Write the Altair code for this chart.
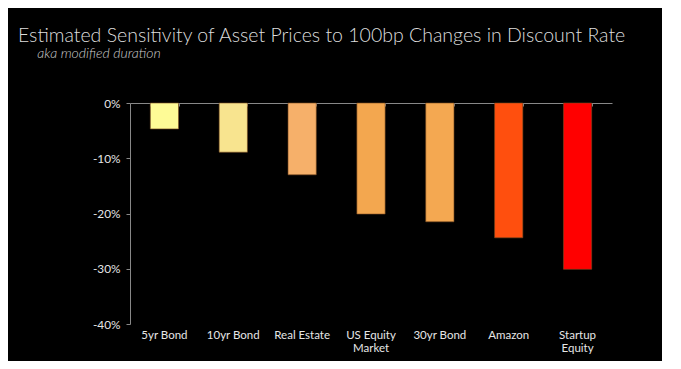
import altair as alt
import pandas as pd

categories = ["5yr Bond", "10yr Bond", "Real Estate", "US Equity\nMarket",
              "30yr Bond", "Amazon", "Startup\nEquity"]
values = [-0.047, -0.089, -0.130, -0.201, -0.215, -0.244, -0.301]
colors = ["#FEFB96", "#F8E48F", "#F6B06A", "#F3A74F", "#F4A851", "#FF4F0E", "#FF0000"]

df = pd.DataFrame({"cat": categories, "val": values, "col": colors})

xscale = alt.Scale(domain=categories, paddingInner=0.59, paddingOuter=0.295)
yscale = alt.Scale(domain=[-0.4, 0], nice=False)

bars = alt.Chart(df).mark_bar(strokeWidth=0.6, stroke="#7a4a20").encode(
    x=alt.X("cat:N", sort=categories, scale=xscale,
            axis=alt.Axis(orient="bottom", title=None, domain=False, ticks=False,
                          labelAngle=0, labelColor="#e6e6e6", labelFontSize=11.5,
                          labelFont="Lato", labelPadding=5, labelLineHeight=13,
                          labelExpr="split(datum.value, '\\n')")),
    y=alt.Y("val:Q", scale=yscale,
            axis=alt.Axis(title=None, format=".0%", values=[0, -0.1, -0.2, -0.3, -0.4],
                          labelExpr="replace(datum.label, '\u2212', '-')",
                          grid=False, domainColor="#888", tickColor="#888",
                          tickSize=4, labelPadding=6, labelColor="#e6e6e6",
                          labelFontSize=11.8, labelFont="Lato")),
    color=alt.Color("col:N", scale=None),
)

zero = alt.Chart(df).mark_rule(opacity=0).encode(
    x=alt.X("cat:N", sort=categories, scale=xscale,
            axis=alt.Axis(orient="bottom", offset=-221, title=None, labels=False,
                          domain=True, domainColor="#888", ticks=True, tickSize=3,
                          tickColor="#888", tickBand="extent")),
    y=alt.datum(0),
)

chart = alt.layer(bars, zero).resolve_axis(x="independent").properties(
    width=482, height=221,
    autosize=alt.AutoSizeParams(type="none"),
    padding={"left": 122, "top": 95, "right": 50, "bottom": 37},
    background="black",
    title=alt.TitleParams(
        "Estimated Sensitivity of Asset Prices to 100bp Changes in Discount Rate",
        subtitle="\u200b\u2002\u2002\u2002aka modified duration",
        anchor="start", frame="group", dx=-112, offset=36,
        font="Lato", fontSize=19.5, fontWeight=300, color="#dddddd",
        subtitleFont="Lato", subtitleFontSize=14, subtitleFontStyle="italic",
        subtitleFontWeight=300,
        subtitleColor="#cccccc", subtitlePadding=1,
    ),
).configure_view(stroke=None)

chart.save("out.html", embed_options={"renderer": "svg", "actions": False})
